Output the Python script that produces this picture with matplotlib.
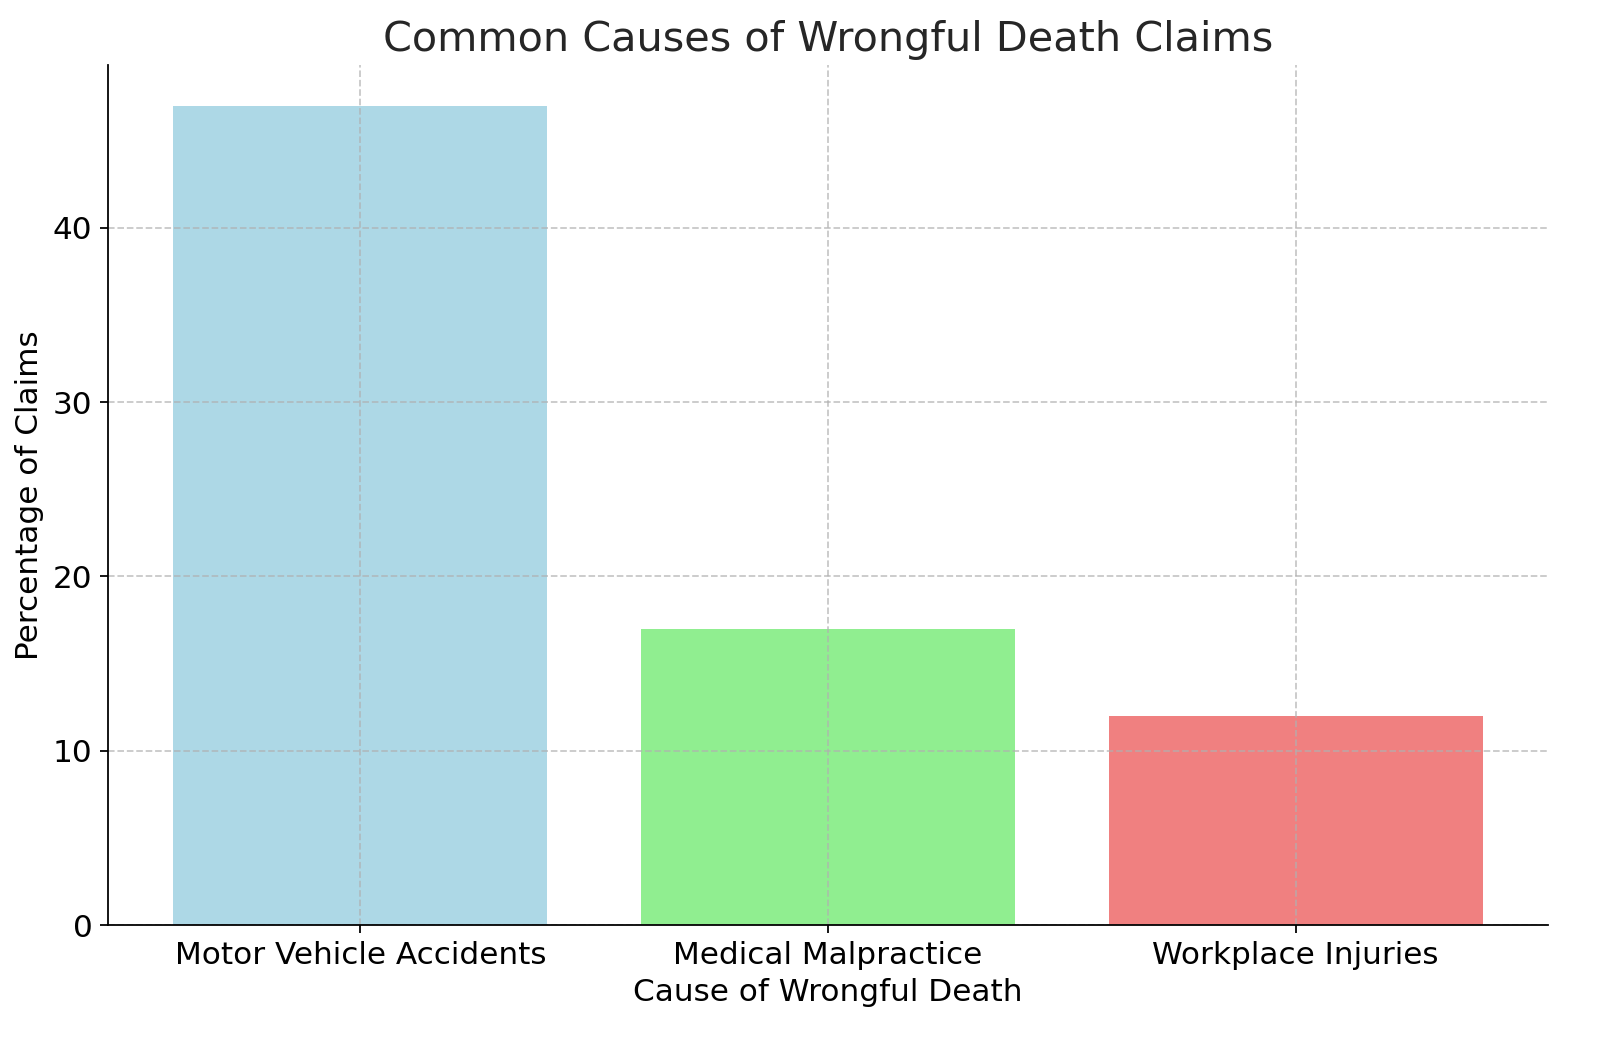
import matplotlib.pyplot as plt

causes = ["Motor Vehicle Accidents", "Medical Malpractice", "Workplace Injuries"]
percentages = [47, 17, 12]
colors = ["lightblue", "lightgreen", "lightcoral"]

fig = plt.figure(figsize=(10, 6.53125), dpi=160)
ax = fig.add_axes([0.0675, 0.1148, 0.9, 0.8232])
ax.bar(causes, percentages, color=colors)

ax.set_title("Common Causes of Wrongful Death Claims", fontsize=18.6, color="#262626")
ax.set_xlabel("Cause of Wrongful Death", fontsize=14)
ax.set_ylabel("Percentage of Claims", fontsize=14)
ax.tick_params(labelsize=14)
ax.grid(True, linestyle="--", color="#b0b0b0", alpha=0.7)
ax.spines["top"].set_visible(False)
ax.spines["right"].set_visible(False)

plt.savefig("out.png")
